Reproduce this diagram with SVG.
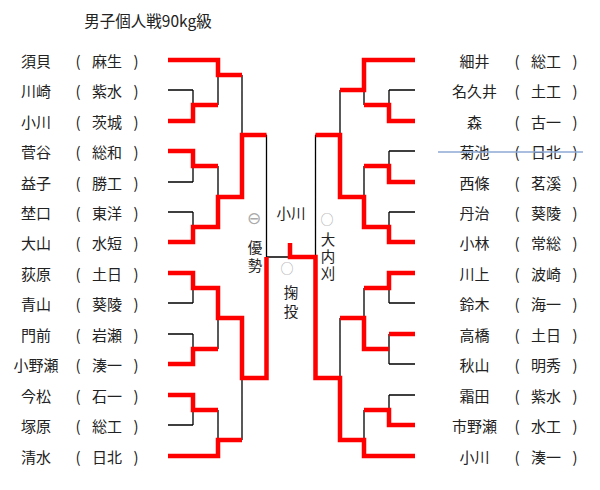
<svg xmlns="http://www.w3.org/2000/svg" width="600" height="490" viewBox="0 0 600 490">
<style>
text{font-family:"Noto Sans CJK JP","Noto Sans CJK SC",sans-serif;fill:#222;font-size:15px;text-anchor:middle;dominant-baseline:central}
.t{font-size:15.5px}
.c{font-size:14.5px}
.v{font-size:14.5px;writing-mode:vertical-rl;text-orientation:upright}
.m{fill:#aaa;font-size:13px}
.e{fill:#aaa;font-size:17px;font-family:"DejaVu Sans",sans-serif}
.k{fill:none;stroke:#000;stroke-width:1.3}
.r{fill:none;stroke:#ff0000;stroke-width:4.5;stroke-linejoin:miter}
.s{stroke:#8eaad6;stroke-width:1.5}
</style>
<rect width="600" height="490" fill="#fff"/>
<text class="t" x="148" y="20">男子個人戦90kg級</text>
<g id="left-players">
<g id="L1"><text x="36" y="60">須貝</text><text x="78" y="60">(</text><text x="107" y="60">麻生</text><text x="136" y="60">)</text></g>
<g id="L2"><text x="36" y="90">川崎</text><text x="78" y="90">(</text><text x="107" y="90">紫水</text><text x="136" y="90">)</text></g>
<g id="L3"><text x="36" y="121">小川</text><text x="78" y="121">(</text><text x="107" y="121">茨城</text><text x="136" y="121">)</text></g>
<g id="L4"><text x="36" y="151">菅谷</text><text x="78" y="151">(</text><text x="107" y="151">総和</text><text x="136" y="151">)</text></g>
<g id="L5"><text x="36" y="182">益子</text><text x="78" y="182">(</text><text x="107" y="182">勝工</text><text x="136" y="182">)</text></g>
<g id="L6"><text x="36" y="212">埜口</text><text x="78" y="212">(</text><text x="107" y="212">東洋</text><text x="136" y="212">)</text></g>
<g id="L7"><text x="36" y="242">大山</text><text x="78" y="242">(</text><text x="107" y="242">水短</text><text x="136" y="242">)</text></g>
<g id="L8"><text x="36" y="273">荻原</text><text x="78" y="273">(</text><text x="107" y="273">土日</text><text x="136" y="273">)</text></g>
<g id="L9"><text x="36" y="303">青山</text><text x="78" y="303">(</text><text x="107" y="303">葵陵</text><text x="136" y="303">)</text></g>
<g id="L10"><text x="36" y="334">門前</text><text x="78" y="334">(</text><text x="107" y="334">岩瀬</text><text x="136" y="334">)</text></g>
<g id="L11"><text x="36" y="364">小野瀬</text><text x="78" y="364">(</text><text x="107" y="364">湊一</text><text x="136" y="364">)</text></g>
<g id="L12"><text x="36" y="395">今松</text><text x="78" y="395">(</text><text x="107" y="395">石一</text><text x="136" y="395">)</text></g>
<g id="L13"><text x="36" y="425">塚原</text><text x="78" y="425">(</text><text x="107" y="425">総工</text><text x="136" y="425">)</text></g>
<g id="L14"><text x="36" y="456">清水</text><text x="78" y="456">(</text><text x="107" y="456">日北</text><text x="136" y="456">)</text></g>
</g>
<g id="right-players">
<g id="R1"><text x="474.5" y="60">細井</text><text x="517" y="60">(</text><text x="546" y="60">総工</text><text x="575" y="60">)</text></g>
<g id="R2"><text x="474.5" y="90">名久井</text><text x="517" y="90">(</text><text x="546" y="90">土工</text><text x="575" y="90">)</text></g>
<g id="R3"><text x="474.5" y="121">森</text><text x="517" y="121">(</text><text x="546" y="121">古一</text><text x="575" y="121">)</text></g>
<g id="R4"><text x="474.5" y="151">菊池</text><text x="517" y="151">(</text><text x="546" y="151">日北</text><text x="575" y="151">)</text><line class="s" x1="438" y1="152" x2="583" y2="152"/></g>
<g id="R5"><text x="474.5" y="182">西條</text><text x="517" y="182">(</text><text x="546" y="182">茗溪</text><text x="575" y="182">)</text></g>
<g id="R6"><text x="474.5" y="212">丹治</text><text x="517" y="212">(</text><text x="546" y="212">葵陵</text><text x="575" y="212">)</text></g>
<g id="R7"><text x="474.5" y="242">小林</text><text x="517" y="242">(</text><text x="546" y="242">常総</text><text x="575" y="242">)</text></g>
<g id="R8"><text x="474.5" y="273">川上</text><text x="517" y="273">(</text><text x="546" y="273">波崎</text><text x="575" y="273">)</text></g>
<g id="R9"><text x="474.5" y="303">鈴木</text><text x="517" y="303">(</text><text x="546" y="303">海一</text><text x="575" y="303">)</text></g>
<g id="R10"><text x="474.5" y="334">高橋</text><text x="517" y="334">(</text><text x="546" y="334">土日</text><text x="575" y="334">)</text></g>
<g id="R11"><text x="474.5" y="364">秋山</text><text x="517" y="364">(</text><text x="546" y="364">明秀</text><text x="575" y="364">)</text></g>
<g id="R12"><text x="474.5" y="395">霜田</text><text x="517" y="395">(</text><text x="546" y="395">紫水</text><text x="575" y="395">)</text></g>
<g id="R13"><text x="474.5" y="425">市野瀬</text><text x="517" y="425">(</text><text x="546" y="425">水工</text><text x="575" y="425">)</text></g>
<g id="R14"><text x="474.5" y="456">小川</text><text x="517" y="456">(</text><text x="546" y="456">湊一</text><text x="575" y="456">)</text></g>
</g>
<g id="connectors">
<path class="k" d="M168 60H218M168 90H193M168 121H193M168 151H193M168 182H193M168 212H193M168 242H193M168 273H193M168 303H193M168 334H193M168 364H193M168 395H193M168 425H193M168 456H218
M193 90V121M193 151V182M193 212V242M193 273V303M193 334V364M193 395V425
M193 105H218M193 166H218M193 227H218M193 288H218M193 349H218M193 410H218
M218 60V105M218 166V227M218 288V349M218 410V456
M218 75H242M218 197H242M218 318H242M218 440H242
M242 75V197M242 318V440M242 135H266.5M242 378H266.5
M266.5 135V378M266.5 257H315.5"/>
<path class="k" d="M415 60H364M415 90H389M415 121H389M415 151H389M415 182H389M415 212H389M415 242H389M415 273H389M415 303H389M415 334H389M415 364H389M415 395H389M415 425H389M415 456H364
M389 90V121M389 151V182M389 212V242M389 273V303M389 334V364M389 395V425
M389 105H364M389 166H364M389 227H364M389 288H364M389 349H364M389 410H364
M364 60V105M364 166V227M364 288V349M364 410V456
M364 90H340M364 197H340M364 318H340M364 440H340
M340 90V197M340 318V440M340 135H315.5M340 378H315.5
M315.5 135V378"/>
<g id="winners">
<polyline class="r" points="168,60 218,60 218,75 242,75"/>
<polyline class="r" points="168,121 193,121 193,105 218,105"/>
<polyline class="r" points="168,151 193,151 193,166 218,166"/>
<polyline class="r" points="168,242 193,242 193,227 218,227 218,197 242,197 242,135 266.5,135"/>
<polyline class="r" points="168,273 193,273 193,288 218,288 218,318 242,318 242,378 266.5,378 266.5,257"/>
<polyline class="r" points="168,364 193,364 193,349 218,349"/>
<polyline class="r" points="168,395 193,395 193,410 218,410"/>
<polyline class="r" points="168,456 218,456 218,440 242,440"/>
<polyline class="r" points="415,60 364,60 364,90 340,90"/>
<polyline class="r" points="415,121 389,121 389,105 364,105"/>
<polyline class="r" points="415,182 389,182 389,166 364,166"/>
<polyline class="r" points="415,242 389,242 389,227 364,227 364,197 340,197 340,135 315.5,135"/>
<polyline class="r" points="415,273 389,273 389,288 364,288"/>
<polyline class="r" points="415,334 389,334"/>
<polyline class="r" points="389,349 364,349 364,318 340,318"/>
<polyline class="r" points="415,425 389,425 389,410 364,410"/>
<polyline class="r" points="415,456 364,456 364,440 340,440 340,378 315.5,378 315.5,257 290,257 290,243"/>
</g>
</g>
<g id="final">
<text class="c" x="291" y="212">小川</text>
<text class="e" x="254" y="218">⊖</text>
<text class="m" x="327" y="218">○</text>
<text class="m" x="287" y="267">○</text>
<text class="v" x="255" y="258" letter-spacing="3">優勢</text>
<text class="v" x="328" y="258" letter-spacing="2.5">大内刈</text>
<text class="v" x="291" y="304" letter-spacing="4">掬投</text>
</g>
</svg>
